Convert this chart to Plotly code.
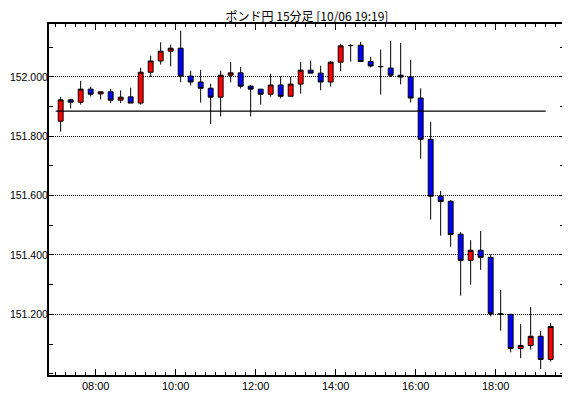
import pandas as pd
import plotly.graph_objects as go

title_text = "ポンド円 15分足 [10/06 19:19]"
start_time = "2021-10-06 07:00"
n_bars = 50

opens = [151.851, 151.923, 151.915, 151.959, 151.943, 151.950, 151.922, 151.933, 151.912, 152.016,
         152.054, 152.087, 152.097, 152.003, 151.983, 151.962, 151.932, 152.006, 152.014, 151.969,
         151.959, 151.942, 151.973, 151.935, 151.976, 152.023, 152.013, 151.983, 152.050, 152.106,
         152.107, 152.052, 152.035, 152.030, 152.006, 152.000, 151.929, 151.790, 151.598, 151.581,
         151.470, 151.382, 151.416, 151.392, 151.201, 151.200, 151.085, 151.095, 151.126, 151.048]
highs = [151.933, 151.927, 151.987, 151.967, 151.952, 151.960, 151.955, 151.964, 152.031, 152.072,
         152.117, 152.109, 152.156, 152.021, 152.024, 151.977, 152.021, 152.051, 152.034, 151.973,
         151.959, 152.011, 152.003, 152.000, 152.051, 152.055, 152.038, 152.054, 152.112, 152.111,
         152.118, 152.068, 152.092, 152.122, 152.115, 152.058, 151.962, 151.849, 151.616, 151.585,
         151.477, 151.450, 151.481, 151.402, 151.282, 151.200, 151.167, 151.225, 151.144, 151.171]
lows = [151.816, 151.894, 151.907, 151.934, 151.924, 151.912, 151.912, 151.912, 151.907, 152.000,
        152.042, 152.036, 151.982, 151.971, 151.914, 151.841, 151.867, 151.982, 151.961, 151.867,
        151.907, 151.934, 151.928, 151.935, 151.944, 152.013, 151.955, 151.968, 152.019, 152.052,
        152.052, 152.032, 151.941, 152.000, 151.975, 151.914, 151.725, 151.519, 151.465, 151.428,
        151.263, 151.300, 151.350, 151.193, 151.145, 151.072, 151.052, 151.081, 151.016, 151.041]
closes = [151.923, 151.915, 151.959, 151.942, 151.950, 151.922, 151.932, 151.912, 152.016, 152.054,
          152.087, 152.097, 152.003, 151.983, 151.962, 151.932, 152.006, 152.014, 151.969, 151.959,
          151.942, 151.973, 151.935, 151.976, 152.023, 152.013, 151.983, 152.050, 152.105, 152.106,
          152.052, 152.037, 152.035, 152.006, 152.000, 151.929, 151.790, 151.598, 151.580, 151.469,
          151.382, 151.416, 151.392, 151.202, 151.201, 151.085, 151.095, 151.126, 151.048, 151.159]

ref_level = 151.885
ref_start = "2021-10-06 07:00"
ref_end = "2021-10-06 19:15"

x_range = ["2021-10-06 06:50", "2021-10-06 19:42:30"]
y_range = [150.9955, 152.1786]
y_tick_vals = [151.2, 151.4, 151.6, 151.8, 152.0]
y_tick_text = ["151.200", "151.400", "151.600", "151.800", "152.000"]
x_tick_vals = ["2021-10-06 08:00", "2021-10-06 10:00", "2021-10-06 12:00",
               "2021-10-06 14:00", "2021-10-06 16:00", "2021-10-06 18:00"]
x_tick_text = ["08:00", "10:00", "12:00", "14:00", "16:00", "18:00"]

# bars centred in the middle of each 15-minute interval
times = pd.date_range(start_time, periods=n_bars, freq="15min") + pd.Timedelta(minutes=7.5)

fig = go.Figure()
fig.add_trace(go.Candlestick(
    x=times, open=opens, high=highs, low=lows, close=closes,
    increasing=dict(fillcolor="#ff0000", line=dict(color="black", width=1)),
    decreasing=dict(fillcolor="#0000ff", line=dict(color="black", width=1)),
    whiskerwidth=0, showlegend=False, hoverinfo="skip",
))
fig.add_trace(go.Scatter(
    x=[ref_start, ref_end], y=[ref_level, ref_level], mode="lines",
    line=dict(color="black", width=1.2), showlegend=False, hoverinfo="skip",
))

x_font = dict(family="Liberation Sans, Arial, sans-serif", size=11, color="black")
y_font = dict(family="Liberation Sans, Arial, sans-serif", size=10.5, color="black")

# the page body adds an 8px offset, so margins are shifted to compensate
fig.update_layout(
    width=570, height=398,
    margin=dict(l=41, r=14, t=16, b=31, autoexpand=False),
    paper_bgcolor="white", plot_bgcolor="white",
    title=dict(text=title_text, x=0.5246, xanchor="center", y=0.9775, yanchor="middle",
               font=dict(family="Noto Sans CJK JP, sans-serif", size=12, color="black")),
    xaxis=dict(
        type="date", range=x_range, rangeslider=dict(visible=False), automargin=False,
        tickmode="array", tickvals=x_tick_vals, ticktext=x_tick_text,
        ticks="inside", ticklen=6, tickcolor="black", tickwidth=1,
        minor=dict(dtick=15 * 60 * 1000, tick0="2021-10-06 07:00", ticks="inside",
                   ticklen=3, tickcolor="black", showgrid=False),
        showgrid=False, zeroline=False,
        showline=True, linecolor="black", linewidth=2, mirror="ticks",
        tickfont=x_font,
    ),
    yaxis=dict(
        range=y_range, tickmode="array", tickvals=y_tick_vals, ticktext=y_tick_text,
        automargin=False, ticklabelstandoff=-3,
        ticks="inside", ticklen=4, tickcolor="black",
        minor=dict(dtick=0.1, tick0=151.0, ticks="inside", ticklen=4,
                   tickcolor="black", showgrid=False),
        showgrid=True, gridcolor="black", griddash="1px,1px", gridwidth=1,
        zeroline=False, showline=True, linecolor="black", linewidth=2, mirror="ticks",
        tickfont=y_font,
    ),
)

fig.write_html("out.html")
